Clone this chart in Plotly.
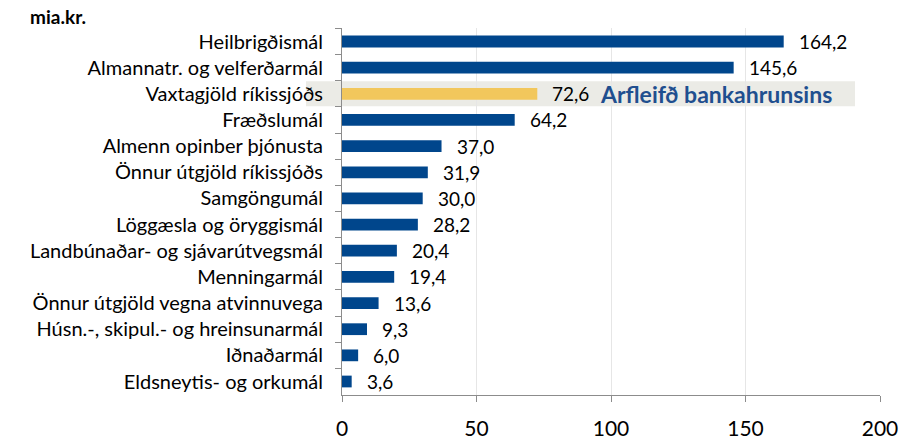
import plotly.graph_objects as go

categories = [
    "Heilbrigðismál",
    "Almannatr. og velferðarmál",
    "Vaxtagjöld ríkissjóðs",
    "Fræðslumál",
    "Almenn opinber þjónusta",
    "Önnur útgjöld ríkissjóðs",
    "Samgöngumál",
    "Löggæsla og öryggismál",
    "Landbúnaðar- og sjávarútvegsmál",
    "Menningarmál",
    "Önnur útgjöld vegna atvinnuvega",
    "Húsn.-, skipul.- og hreinsunarmál",
    "Iðnaðarmál",
    "Eldsneytis- og orkumál",
]
values = [164.2, 145.6, 72.6, 64.2, 37.0, 31.9, 30.0, 28.2, 20.4, 19.4, 13.6, 9.3, 6.0, 3.6]
highlight_category = "Vaxtagjöld ríkissjóðs"
highlight_note = "Arfleifð bankahrunsins"
x_ticks = [0, 50, 100, 150, 200]
unit_label = "mia.kr."

BLUE = "#00468c"
YELLOW = "#f2c75c"
FONT = "Lato, 'Open Sans', sans-serif"

W, H = 917, 441
L, R, T, B = 342, 37, 28, 46
PW, PH = W - L - R, H - T - B

colors = [YELLOW if c == highlight_category else BLUE for c in categories]

fig = go.Figure()
fig.add_trace(go.Bar(
    x=values, y=categories, orientation="h",
    marker=dict(color=colors, line=dict(width=0)),
    width=0.45, hoverinfo="skip",
))

hi_idx = categories.index(highlight_category)
fig.add_shape(type="rect", xref="paper", yref="y",
              x0=(306 - L) / PW, x1=(855 - L) / PW, y0=hi_idx - 0.48, y1=hi_idx + 0.48,
              fillcolor="#ebebe6", line=dict(width=0), layer="below")

annotations = []
for c, v in zip(categories, values):
    annotations.append(dict(
        x=v, y=c, xref="x", yref="y", text=f"{v:.1f}".replace(".", ","),
        showarrow=False, xanchor="left", yanchor="middle", xshift=13,
        font=dict(family=FONT, size=19, color="#000000"),
    ))
annotations.append(dict(
    x=values[hi_idx], y=highlight_category, xref="x", yref="y",
    text=f"<b>{highlight_note}</b>", showarrow=False, xanchor="left",
    yanchor="middle", xshift=61,
    font=dict(family=FONT, size=23, color="#1f4f8f"),
))

fig.update_layout(
    width=W, height=H,
    margin=dict(l=L, r=R, t=T, b=B, autoexpand=False),
    plot_bgcolor="white", paper_bgcolor="white",
    showlegend=False,
    annotations=annotations,
    font=dict(family=FONT, color="#000000"),
    title=dict(text=f"<b>{unit_label}</b>", xref="container", yref="container",
               x=86 / W, xanchor="right", y=1 - 17 / H, yanchor="middle",
               font=dict(family=FONT, size=19, color="#000000")),
)
fig.update_xaxes(
    range=[0, 200], tickvals=x_ticks, ticktext=[str(t) for t in x_ticks],
    showgrid=True, gridcolor="#e6e6e6", gridwidth=1,
    showline=True, linecolor="#8c8c8c", linewidth=1,
    ticks="outside", ticklen=6, tickcolor="#8c8c8c",
    tickfont=dict(family=FONT, size=21, color="#000000"),
    ticklabelstandoff=9, zeroline=False, automargin=False,
)
fig.update_yaxes(
    categoryorder="array", categoryarray=categories, autorange="reversed",
    showline=True, linecolor="#8c8c8c", linewidth=1,
    ticks="outside", ticklen=6, tickcolor="#8c8c8c", tickson="boundaries",
    tickfont=dict(family=FONT, size=20, color="#000000"),
    ticklabelstandoff=14, showgrid=False, automargin=False,
)

fig.write_html("out.html", config={"displayModeBar": False},
               post_script="document.body.style.margin='0';document.body.style.overflow='hidden';")
